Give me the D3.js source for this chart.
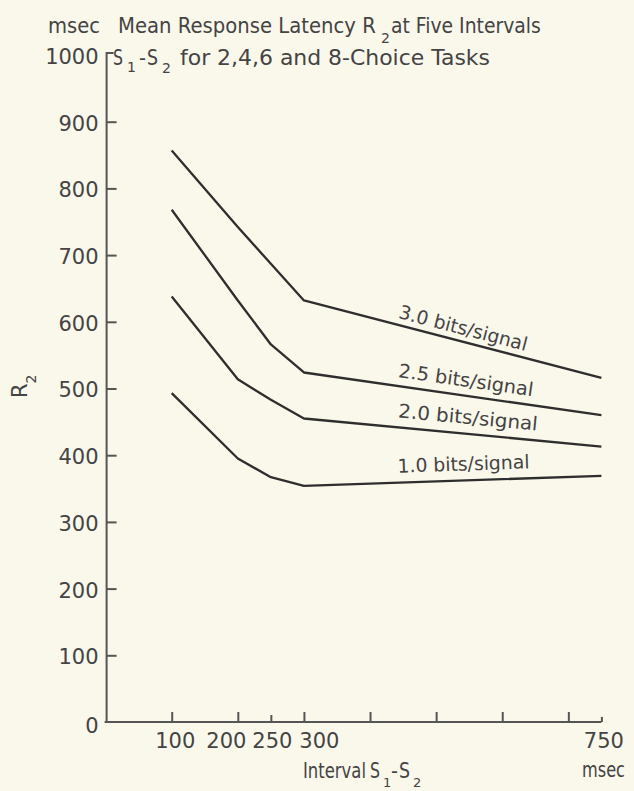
<!DOCTYPE html>
<html>
<head>
<meta charset="utf-8">
<script src="https://cdn.jsdelivr.net/npm/d3@7"></script>
<style>
  html, body { margin: 0; padding: 0; background: #faf7eb; }
  svg { display: block; }
  text { font-family: "DejaVu Sans", sans-serif; fill: #444; }
</style>
</head>
<body>
<script>
// ---------------- data ----------------
const intervals = [100, 200, 250, 300, 750];
const seriesNames = ["3.0 bits/signal", "2.5 bits/signal", "2.0 bits/signal", "1.0 bits/signal"];
const bits30 = [857, 742, 687, 632, 516];
const bits25 = [768, 632, 566, 524, 460];
const bits20 = [638, 514, 483, 455, 413];
const bits10 = [493, 395, 367, 354, 369];
const yTickValues = [0, 100, 200, 300, 400, 500, 600, 700, 800, 900, 1000];
const xTickValues = [100, 200, 250, 300, 400, 500, 600, 700, 750];
const xTickLabels = ["100", "200", "250", "300", "750"];

const seriesValues = [bits30, bits25, bits20, bits10];

// ---------------- layout ----------------
const W = 634, H = 791;
const svg = d3.select("body").append("svg").attr("width", W).attr("height", H);
svg.append("rect").attr("width", W).attr("height", H).attr("fill", "#faf7eb");

const x = d3.scaleLinear().domain([0, 750]).range([105.6, 601.4]);
const y = d3.scaleLinear().domain([0, 1000]).range([722, 55]);

const axisColor = "#555";

// ---- Y axis ----
const yAxis = d3.axisLeft(y).tickValues(yTickValues).tickSizeInner(-10).tickSizeOuter(0).tickPadding(8)
  .tickFormat(d => String(d));
const gy = svg.append("g").attr("transform", `translate(${x(0) + 1},0)`).call(yAxis);
gy.select(".domain").remove();
gy.selectAll(".tick line").attr("stroke", axisColor).attr("stroke-width", 2)
  .filter(d => d === 0 || d === 1000).remove();
gy.selectAll(".tick text").attr("font-size", 21).attr("fill", "#444")
  .attr("font-family", "DejaVu Sans").attr("dy", d => d === 0 ? "0.5em" : "0.4em");

// y axis line with hook at top
svg.append("path")
  .attr("d", d3.line()([[x(0) + 1, y(0)], [x(0) + 1, y(1000) - 2], [x(0) + 8, y(1000) - 2]]))
  .attr("fill", "none").attr("stroke", axisColor).attr("stroke-width", 2);

// ---- X axis ----
const xAxis = d3.axisBottom(x).tickValues(xTickValues).tickSizeInner(-10).tickSizeOuter(0).tickPadding(11)
  .tickFormat(d => xTickLabels.includes(String(d)) ? String(d) : "");
const gx = svg.append("g").attr("transform", `translate(0,${y(0)})`).call(xAxis);
gx.select(".domain").attr("stroke", axisColor).attr("stroke-width", 2)
  .attr("d", `M${x(0) - 1},0H${x(750)}`);
gx.selectAll(".tick line").attr("stroke", axisColor).attr("stroke-width", 2)
  .attr("y2", d => d === 750 ? -5 : (d === 250 ? -7 : -10));
const xLabelShift = { 100: 3, 200: -12, 250: 1, 300: 15, 750: 2 };
gx.selectAll(".tick text").attr("font-size", 21).attr("fill", "#444")
  .attr("font-family", "DejaVu Sans")
  .attr("dx", d => xLabelShift[d] || 0);

// ---- lines ----
const line = d3.line().x((d, i) => x(intervals[i])).y(d => y(d));
svg.append("g").selectAll("path").data(seriesValues).join("path")
  .attr("d", d => line(d))
  .attr("fill", "none").attr("stroke", "#2e2e2e").attr("stroke-width", 2.3)
  .attr("stroke-linejoin", "round");

// ---- text helper: fits a text to a width by horizontal scaling ----
function fitText(str, tx, ty, size, len, angle) {
  const t = svg.append("text").attr("x", 0).attr("y", 0).attr("font-size", size).text(str);
  const nat = t.node().getComputedTextLength();
  const sx = len ? len / nat : 1;
  t.attr("transform", `translate(${tx},${ty}) rotate(${angle || 0}) scale(${sx},1)`);
  return t;
}

// ---- line labels ----
function interp(vals, xv) {
  for (let i = 0; i < intervals.length - 1; i++) {
    if (xv >= intervals[i] && xv <= intervals[i + 1]) {
      const t = (xv - intervals[i]) / (intervals[i + 1] - intervals[i]);
      return vals[i] + t * (vals[i + 1] - vals[i]);
    }
  }
  return vals[vals.length - 1];
}
const labelX = 442;
const labelOff = [7, 9, 10, 10];
const labelLen = [132, 136, 140, 132];
seriesValues.forEach((vals, i) => {
  const px = x(labelX), py = y(interp(vals, labelX)) - labelOff[i];
  const ang = Math.atan2(y(vals[4]) - y(vals[3]), x(750) - x(300)) * 180 / Math.PI;
  fitText(seriesNames[i], px, py, 19, labelLen[i], ang);
});

// ---- titles ----
// line 1
fitText("msec", 48, 33, 21, 52);
fitText("Mean Response Latency R", 118, 33, 21, 258);
fitText("2", 381, 43, 14);
fitText("at Five Intervals", 391, 33, 21, 150);
// line 2
fitText("S", 113, 65, 21, 10);
fitText("1", 127, 72, 14);
fitText("-", 139, 65, 21, 7);
fitText("S", 147, 65, 21, 11);
fitText("2", 162, 73, 14);
fitText("for 2,4,6 and  8-Choice Tasks", 180, 65, 21, 310);

// x axis title
fitText("Interval", 303, 778, 21, 63);
fitText("S", 370, 778, 21, 10);
fitText("1", 383, 787, 13);
fitText("-", 391, 778, 21, 7);
fitText("S", 399, 778, 21, 11);
fitText("2", 413, 787, 13);
fitText("msec", 582, 777, 21, 43);

// y axis title
const yt = svg.append("text").attr("transform", "translate(27,398) rotate(-90)").attr("font-size", 21);
yt.append("tspan").text("R");
yt.append("tspan").attr("dy", 9).attr("font-size", 14).text("2");
</script>
</body>
</html>
